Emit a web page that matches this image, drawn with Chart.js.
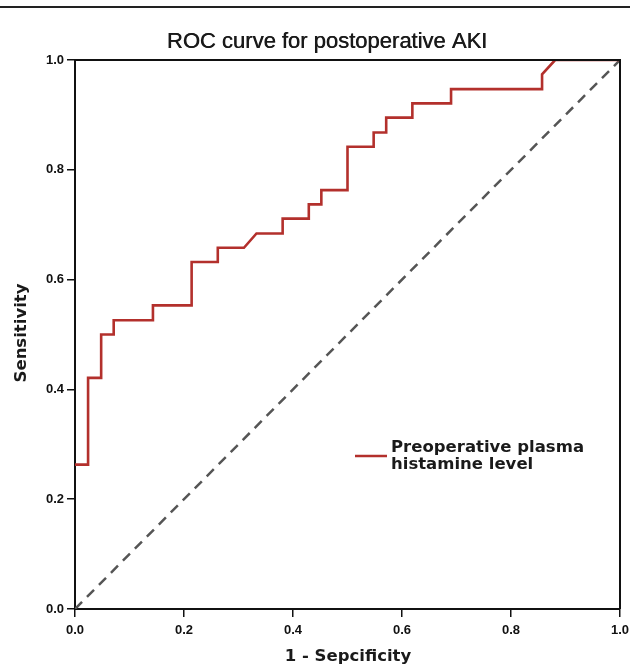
<!DOCTYPE html>
<html><head><meta charset="utf-8">
<script src="https://cdn.jsdelivr.net/npm/chart.js@4"></script>
<style>html,body{margin:0;padding:0;background:#fff}#wrap{width:630px;height:669px;position:relative}</style>
</head><body><div id="wrap"><canvas id="c" width="630" height="669"></canvas></div>
<script>
// ROC curve (1 - specificity, sensitivity)
const fpr = [0.000, 0.024, 0.024, 0.048, 0.048, 0.071, 0.071, 0.143, 0.143, 0.214, 0.214, 0.262, 0.262, 0.310, 0.333, 0.381, 0.381, 0.429, 0.429, 0.452, 0.452, 0.500, 0.500, 0.548, 0.548, 0.571, 0.571, 0.619, 0.619, 0.690, 0.690, 0.857, 0.857, 0.881, 1.000];
const sensitivity = [0.263, 0.263, 0.421, 0.421, 0.500, 0.500, 0.526, 0.526, 0.553, 0.553, 0.632, 0.632, 0.658, 0.658, 0.684, 0.684, 0.711, 0.711, 0.737, 0.737, 0.763, 0.763, 0.842, 0.842, 0.868, 0.868, 0.895, 0.895, 0.921, 0.921, 0.947, 0.947, 0.974, 1.000, 1.000];
const refX = [0, 1];
const refY = [0, 1];
const xTicks = [0, 0.2, 0.4, 0.6, 0.8, 1.0];
const yTicks = [0, 0.2, 0.4, 0.6, 0.8, 1.0];
const chartTitle = 'ROC curve for postoperative AKI';
const xTitle = '1 - Sepcificity';
const yTitle = 'Sensitivity';
const legendLines = ['Preoperative plasma', 'histamine level'];

const RED = '#b3302c';
const INK = '#111111';

const decor = {
  id: 'decor',
  afterDraw(chart) {
    const ctx = chart.ctx, a = chart.chartArea;
    ctx.save();
    // top rule
    ctx.fillStyle = '#222';
    ctx.fillRect(0, 6, 630, 2);
    // box top/right
    ctx.strokeStyle = INK; ctx.lineWidth = 2;
    ctx.beginPath();
    ctx.moveTo(a.left, a.top); ctx.lineTo(a.right, a.top); ctx.lineTo(a.right, a.bottom);
    ctx.stroke();
    // title
    ctx.fillStyle = '#1a1a1a';
    ctx.textAlign = 'center'; ctx.textBaseline = 'alphabetic';
    ctx.font = '22px "Liberation Sans", Arial, sans-serif';
    ctx.fillText(chartTitle, 327, 48);
    ctx.fillText(chartTitle, 327.5, 48);
    // axis titles
    ctx.font = 'bold 16.5px "DejaVu Sans", sans-serif';
    ctx.textBaseline = 'middle';
    ctx.fillText(xTitle, 348, 657);
    ctx.save();
    ctx.translate(22, 333); ctx.rotate(-Math.PI / 2);
    ctx.fillText(yTitle, 0, 0);
    ctx.restore();
    // legend
    ctx.strokeStyle = RED; ctx.lineWidth = 2.5;
    ctx.beginPath(); ctx.moveTo(355, 456); ctx.lineTo(387, 456); ctx.stroke();
    ctx.textAlign = 'left';
    ctx.font = 'bold 16.5px "DejaVu Sans", sans-serif';
    ctx.fillText(legendLines[0], 391, 448);
    ctx.fillText(legendLines[1], 391, 465);
    ctx.restore();
  }
};

const tickFont = { family: '"Liberation Sans", Arial, sans-serif', size: 13, weight: 'bold' };

new Chart(document.getElementById('c'), {
  type: 'scatter',
  data: {
    datasets: [
      {
        data: fpr.map((x, i) => ({ x, y: sensitivity[i] })),
        showLine: true, pointRadius: 0, borderColor: RED, borderWidth: 2.6, tension: 0
      },
      {
        data: refX.map((x, i) => ({ x, y: refY[i] })),
        showLine: true, pointRadius: 0, borderColor: '#555', borderWidth: 2.5, borderDash: [10, 7]
      }
    ]
  },
  options: {
    responsive: false, animation: false, devicePixelRatio: 1,
    layout: { padding: { top: 60, right: 10, left: 0, bottom: 0 } },
    plugins: { legend: { display: false }, tooltip: { enabled: false }, title: { display: false } },
    scales: {
      x: {
        type: 'linear', min: 0, max: 1,
        afterBuildTicks: s => { s.ticks = xTicks.map(v => ({ value: v })); },
        afterFit: s => { s.height = 60; s.paddingLeft = 0; s.paddingRight = 0; },
        ticks: { font: tickFont, color: INK, padding: 6, maxRotation: 0, autoSkip: false, callback: v => Number(v).toFixed(1) },
        grid: { drawOnChartArea: false, drawTicks: true, tickLength: 8, color: INK, lineWidth: 1.5 },
        border: { display: true, color: INK, width: 2 }
      },
      y: {
        type: 'linear', min: 0, max: 1,
        afterBuildTicks: s => { s.ticks = yTicks.map(v => ({ value: v })); },
        afterFit: s => { s.width = 75; s.paddingTop = 0; s.paddingBottom = 0; },
        ticks: { font: tickFont, color: INK, padding: 3, autoSkip: false, callback: v => Number(v).toFixed(1) },
        grid: { drawOnChartArea: false, drawTicks: true, tickLength: 8, color: INK, lineWidth: 1.5 },
        border: { display: true, color: INK, width: 2 }
      }
    }
  },
  plugins: [decor]
});
</script>
</body></html>
